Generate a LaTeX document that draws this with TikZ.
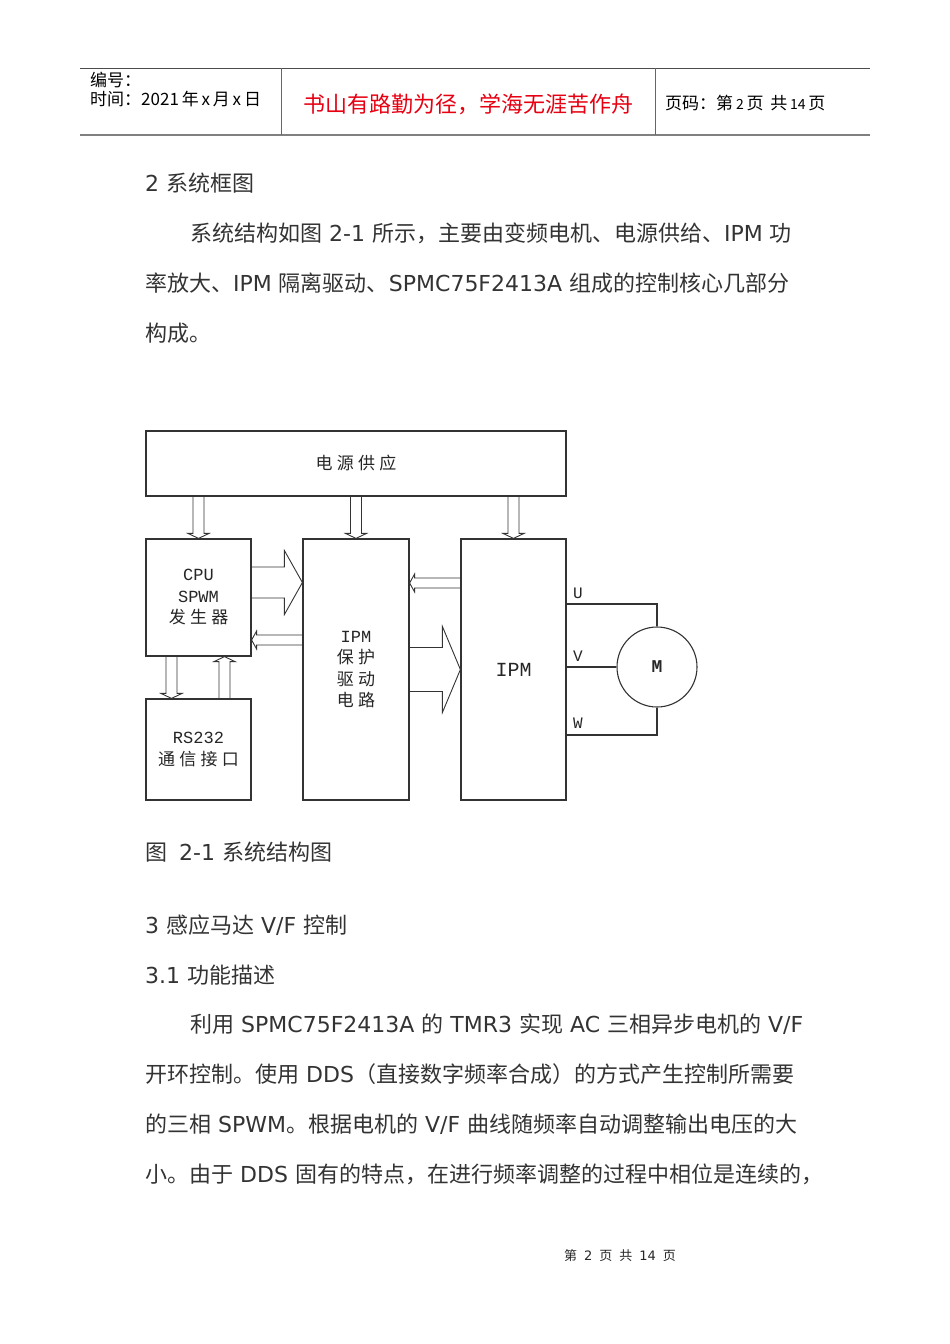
\documentclass[tikz,border=0pt]{standalone}
\usepackage{fontspec}
\setmainfont{Noto Sans CJK SC}
\newfontfamily\latin{DejaVu Sans}
\newfontfamily\boxcjk[LetterSpace=25]{Noto Sans CJK SC}
\setmonofont{Liberation Mono}
\usepackage{xcolor}
\usepackage{tikz}
\usetikzlibrary{positioning,calc}

\definecolor{inkgray}{HTML}{333333}
\definecolor{mottored}{HTML}{E60012}

\newcommand{\lt}[1]{{\latin #1}}
% hollow block arrow: tail, tip, shaft half width, head half width, head length
\newcommand{\blockarrow}[5]{%
  \coordinate (ba-h) at ($(#2)!#5!(#1)$);
  \draw[arrowline] ($(#1)!#3!90:(#2)$) -- ($(ba-h)!#3!90:(#2)$) -- ($(ba-h)!#4!90:(#2)$)
    -- (#2) -- ($(ba-h)!#4!-90:(#2)$) -- ($(ba-h)!#3!-90:(#2)$) -- ($(#1)!#3!-90:(#2)$);}

\begin{document}
\begin{tikzpicture}[x=1pt, y=-1pt,
  hdtext/.style={anchor=west, inner sep=0pt, font=\fontsize{17}{20}\selectfont},
  body/.style={anchor=west, inner sep=0pt, text=inkgray, font=\fontsize{22}{26}\selectfont},
  box/.style={draw=black!80, line width=1.2pt, inner sep=0pt, text=black!85, align=center, font=\fontsize{17}{21.5}\selectfont},
  wire/.style={draw=black!80, line width=1.1pt},
  arrowline/.style={draw=black!80, line width=0.9pt, line join=miter},
  phase/.style={inner sep=0pt, text=black!85, font=\fontsize{16}{18}\selectfont\ttfamily}]

  \fill[white] (0,0) rectangle (950,1344);
  \useasboundingbox (0,0) rectangle (950,1344);

  % page header
  \draw[black!70, line width=0.8pt] (80,68) -- (870,68);
  \draw[black!50, line width=2pt] (80,135) -- (870,135);
  \draw[black!60, line width=0.8pt] (281,68) -- (281,135);
  \draw[black!60, line width=0.8pt] (655,68) -- (655,135);
  \node[hdtext] (hdnum) at (90,80) {编号：};
  \node[hdtext] (hdtime) at (90,99) {时间：2021\,年\,x\,月\,x\,日};
  \node[inner sep=0pt, text=mottored, font=\fontsize{22}{26}\selectfont] (motto) at (468,104) {书山有路勤为径，学海无涯苦作舟};
  \node[hdtext] (hdpage) at (665,103) {页码：第\,{\fontsize{14}{17}\selectfont 2}\,页 \,共\,{\fontsize{14}{17}\selectfont 14}\,页};

  % text above the figure
  \node[body] (sec2) at (145,183) {\lt{2 }系统框图};
  \node[body] (p1a) at (190,233) {系统结构如图\lt{ 2-1 }所示，主要由变频电机、电源供给、\lt{IPM }功};
  \node[body] (p1b) at (145,283) {率放大、\lt{IPM }隔离驱动、\lt{SPMC75F2413A }组成的控制核心几部分};
  \node[body] (p1c) at (145,333) {构成。};

  % blocks
  \node[box, minimum width=420pt, minimum height=65pt] (pwr) at (356,463.5) {\boxcjk 电源供应};
  \node[box, minimum width=105pt, minimum height=117pt] (cpu) at (198.5,597.5) {{\ttfamily CPU}\\{\ttfamily SPWM}\\{\boxcjk 发生器}};
  \node[box, minimum width=106pt, minimum height=261pt] (drv) at (356,669.5) {{\ttfamily IPM}\\{\boxcjk 保护}\\{\boxcjk 驱动}\\{\boxcjk 电路}};
  \node[box, minimum width=105pt, minimum height=261pt] (ipm) at (513.5,669.5) {\fontsize{20}{24}\selectfont\ttfamily IPM};
  \node[box, minimum width=105pt, minimum height=101pt] (rs) at (198.5,749.5) {{\ttfamily RS232}\\{\boxcjk 通信接口}};
  \node[draw=black!80, line width=1.1pt, circle, minimum size=80pt, inner sep=0pt, text=black!85, font=\fontsize{18}{20}\selectfont\ttfamily\bfseries] (mot) at (657,667) {M};

  % supply feeds
  \coordinate (feedcpu) at (pwr.south -| cpu.north);
  \coordinate (feeddrv) at (pwr.south -| drv.north);
  \coordinate (feedipm) at (pwr.south -| ipm.north);
  \blockarrow{feedcpu}{cpu.north}{5.5pt}{10.5pt}{5pt}
  \blockarrow{feeddrv}{drv.north}{5.5pt}{10.5pt}{5pt}
  \blockarrow{feedipm}{ipm.north}{5.5pt}{10.5pt}{5pt}

  % pwm and fault signals
  \coordinate (pwmout) at ($(cpu.east)+(0,-15)$);
  \coordinate (pwmin) at (pwmout -| drv.west);
  \blockarrow{pwmout}{pwmin}{15.5pt}{32pt}{18pt}
  \coordinate (faultout) at ($(drv.west)+(0,-29.5)$);
  \coordinate (faultin) at (faultout -| cpu.east);
  \blockarrow{faultout}{faultin}{5pt}{9pt}{5pt}
  \coordinate (ipmfb) at ($(ipm.west)+(0,-86.5)$);
  \coordinate (drvfb) at (ipmfb -| drv.east);
  \blockarrow{ipmfb}{drvfb}{5pt}{9pt}{5pt}
  \blockarrow{drv.east}{ipm.west}{22pt}{43pt}{18pt}

  % serial link
  \coordinate (txout) at ($(cpu.south)+(-27,0)$);
  \coordinate (txin) at (txout |- rs.north);
  \blockarrow{txout}{txin}{5.5pt}{10.5pt}{5pt}
  \coordinate (rxout) at ($(rs.north)+(26,0)$);
  \coordinate (rxin) at (rxout |- cpu.south);
  \blockarrow{rxout}{rxin}{5.5pt}{10.5pt}{5pt}

  % motor phases
  \coordinate (uout) at ($(ipm.east)+(0,-65.5)$);
  \coordinate (vout) at (ipm.east |- mot.west);
  \coordinate (wout) at ($(ipm.east)+(0,65.5)$);
  \draw[wire] (uout) -| (mot.north) node[phase, pos=0, anchor=west, xshift=6pt, yshift=11pt] {U};
  \draw[wire] (vout) -- (mot.west) node[phase, pos=0, anchor=west, xshift=6pt, yshift=11pt] {V};
  \draw[wire] (wout) -| (mot.south) node[phase, pos=0, anchor=west, xshift=6pt, yshift=12pt] {W};

  % text below the figure
  \node[body] (cap) at (145,852) {图 \lt{ 2-1 }系统结构图};
  \node[body] (sec3) at (145,925) {\lt{3 }感应马达\lt{ V/F }控制};
  \node[body] (sec31) at (145,975) {\lt{3.1 }功能描述};
  \node[body] (p2a) at (190,1024) {利用\lt{ SPMC75F2413A }的\lt{ TMR3 }实现\lt{ AC }三相异步电机的\lt{ V/F}};
  \node[body] (p2b) at (145,1074) {开环控制。使用\lt{ DDS}（直接数字频率合成）的方式产生控制所需要};
  \node[body] (p2c) at (145,1124) {的三相\lt{ SPWM}。根据电机的\lt{ V/F }曲线随频率自动调整输出电压的大};
  \node[body] (p2d) at (145,1174) {小。由于\lt{ DDS }固有的特点，在进行频率调整的过程中相位是连续的，};

  % page footer
  \node[inner sep=0pt, text=black!85, font=\fontsize{13}{15}\selectfont] (footer) at (620,1256) {第\hspace{7pt}\lt{2}\hspace{7pt}页\hspace{7pt}共\hspace{7pt}\lt{14}\hspace{7pt}页};
\end{tikzpicture}
\end{document}
